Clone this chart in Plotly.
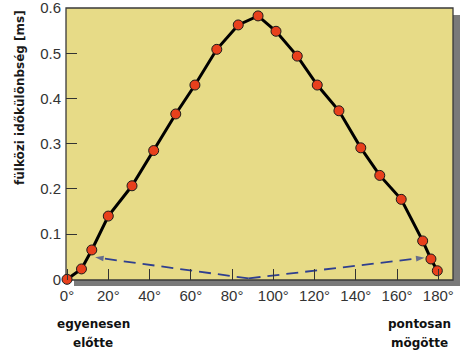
import plotly.graph_objects as go

# Data
angles = [0, 7, 12, 20, 31.5, 42, 52.7, 62, 72.6, 83, 92.6, 101.3, 111.6, 121.3, 131.8, 142.4, 151.6, 162, 172.4, 176.4, 179.5]
itd_ms = [0.0, 0.023, 0.065, 0.140, 0.207, 0.285, 0.366, 0.430, 0.509, 0.563, 0.583, 0.549, 0.494, 0.430, 0.373, 0.291, 0.230, 0.177, 0.085, 0.045, 0.019]

x_tick_vals = [0, 20, 40, 60, 80, 100, 120, 140, 160, 180]
x_tick_text = ["0°", "20°", "40°", "60°", "80°", "100°", "120°", "140°", "160°", "180°"]
y_tick_vals = [0, 0.1, 0.2, 0.3, 0.4, 0.5, 0.6]
y_tick_text = ["0", "0.1", "0.2", "0.3", "0.4", "0.5", "0.6"]

arrow_left_x = [88, 13.6]
arrow_left_y = [0.002, 0.0486]
arrow_right_x = [88, 173.3]
arrow_right_y = [0.002, 0.048]

y_title = "fülközi időkülönbség [ms]"
left_label = ["egyenesen", "előtte"]
right_label = ["pontosan", "mögötte"]

arrow_color = "#2F3F8F"

fig = go.Figure()

for xs, ys in [(arrow_left_x, arrow_left_y), (arrow_right_x, arrow_right_y)]:
    fig.add_trace(go.Scatter(
        x=xs, y=ys, mode="lines+markers",
        line=dict(color=arrow_color, width=1.8, dash="12px,7px"),
        marker=dict(symbol="arrow", angleref="previous", size=[0, 9], color=arrow_color,
                    line=dict(width=0)),
        hoverinfo="skip", showlegend=False, cliponaxis=False,
    ))

fig.add_trace(go.Scatter(
    x=angles, y=itd_ms, mode="lines+markers",
    line=dict(color="black", width=3),
    marker=dict(size=10, color="#E8401C", line=dict(color="#1a1a1a", width=1)),
    showlegend=False, cliponaxis=False,
))

W, H = 469, 356
L, R, T, B = 66, 453, 8, 280
pw, ph = R - L, B - T

def px_x(p):
    return (p - L) / pw

def px_y(p):
    return (B - p) / ph

shapes = [
    dict(type="rect", xref="paper", yref="paper",
         x0=px_x(74), x1=px_x(460), y0=px_y(286), y1=px_y(15),
         fillcolor="#7a7a7a", line=dict(width=0), layer="below"),
    dict(type="rect", xref="paper", yref="paper",
         x0=0, x1=1, y0=0, y1=1,
         fillcolor="#E7DB87", line=dict(color="#3a3a3a", width=1.3), layer="below"),
]

annotations = [
    dict(text=f"<b>{y_title}</b>", xref="paper", yref="paper",
         x=px_x(20), y=px_y(98), showarrow=False, textangle=-90,
         font=dict(family="DejaVu Sans", size=12, color="#1a1a1a"),
         xanchor="center", yanchor="middle"),
]
for i, t in enumerate(left_label):
    annotations.append(dict(text=f"<b>{t}</b>", xref="paper", yref="paper",
                            x=px_x(93), y=px_y(324 + 18.7 * i), showarrow=False,
                            font=dict(family="DejaVu Sans", size=12, color="#111"),
                            xanchor="center", yanchor="middle"))
for i, t in enumerate(right_label):
    annotations.append(dict(text=f"<b>{t}</b>", xref="paper", yref="paper",
                            x=px_x(419.5), y=px_y(324 + 18.7 * i), showarrow=False,
                            font=dict(family="DejaVu Sans", size=12, color="#111"),
                            xanchor="center", yanchor="middle"))

fig.update_layout(
    width=W, height=H,
    margin=dict(l=L, r=W - R, t=T, b=H - B, pad=0),
    paper_bgcolor="white", plot_bgcolor="rgba(0,0,0,0)",
    shapes=shapes, annotations=annotations,
    font=dict(family="Liberation Sans, Arial", size=15, color="#333"),
)

fig.update_xaxes(
    range=[-0.5, 187.1], tickvals=x_tick_vals, ticktext=x_tick_text,
    ticks="inside", ticklen=11, tickwidth=1.3, tickcolor="#333",
    showgrid=False, zeroline=False, showline=False, automargin=False,
    ticklabelstandoff=5, ticklabeloverflow="allow", tickfont=dict(size=15, color="#333"),
)
fig.update_yaxes(
    range=[-0.0015, 0.6005], tickvals=y_tick_vals, ticktext=y_tick_text,
    ticks="inside", ticklen=11, tickwidth=1.3, tickcolor="#333",
    showgrid=False, zeroline=False, showline=False, automargin=False,
    ticklabelstandoff=4, ticklabeloverflow="allow", tickfont=dict(size=15, color="#333"),
)

fig.write_html("out.html", config={"displayModeBar": False},
               post_script="document.body.style.margin='0';")
